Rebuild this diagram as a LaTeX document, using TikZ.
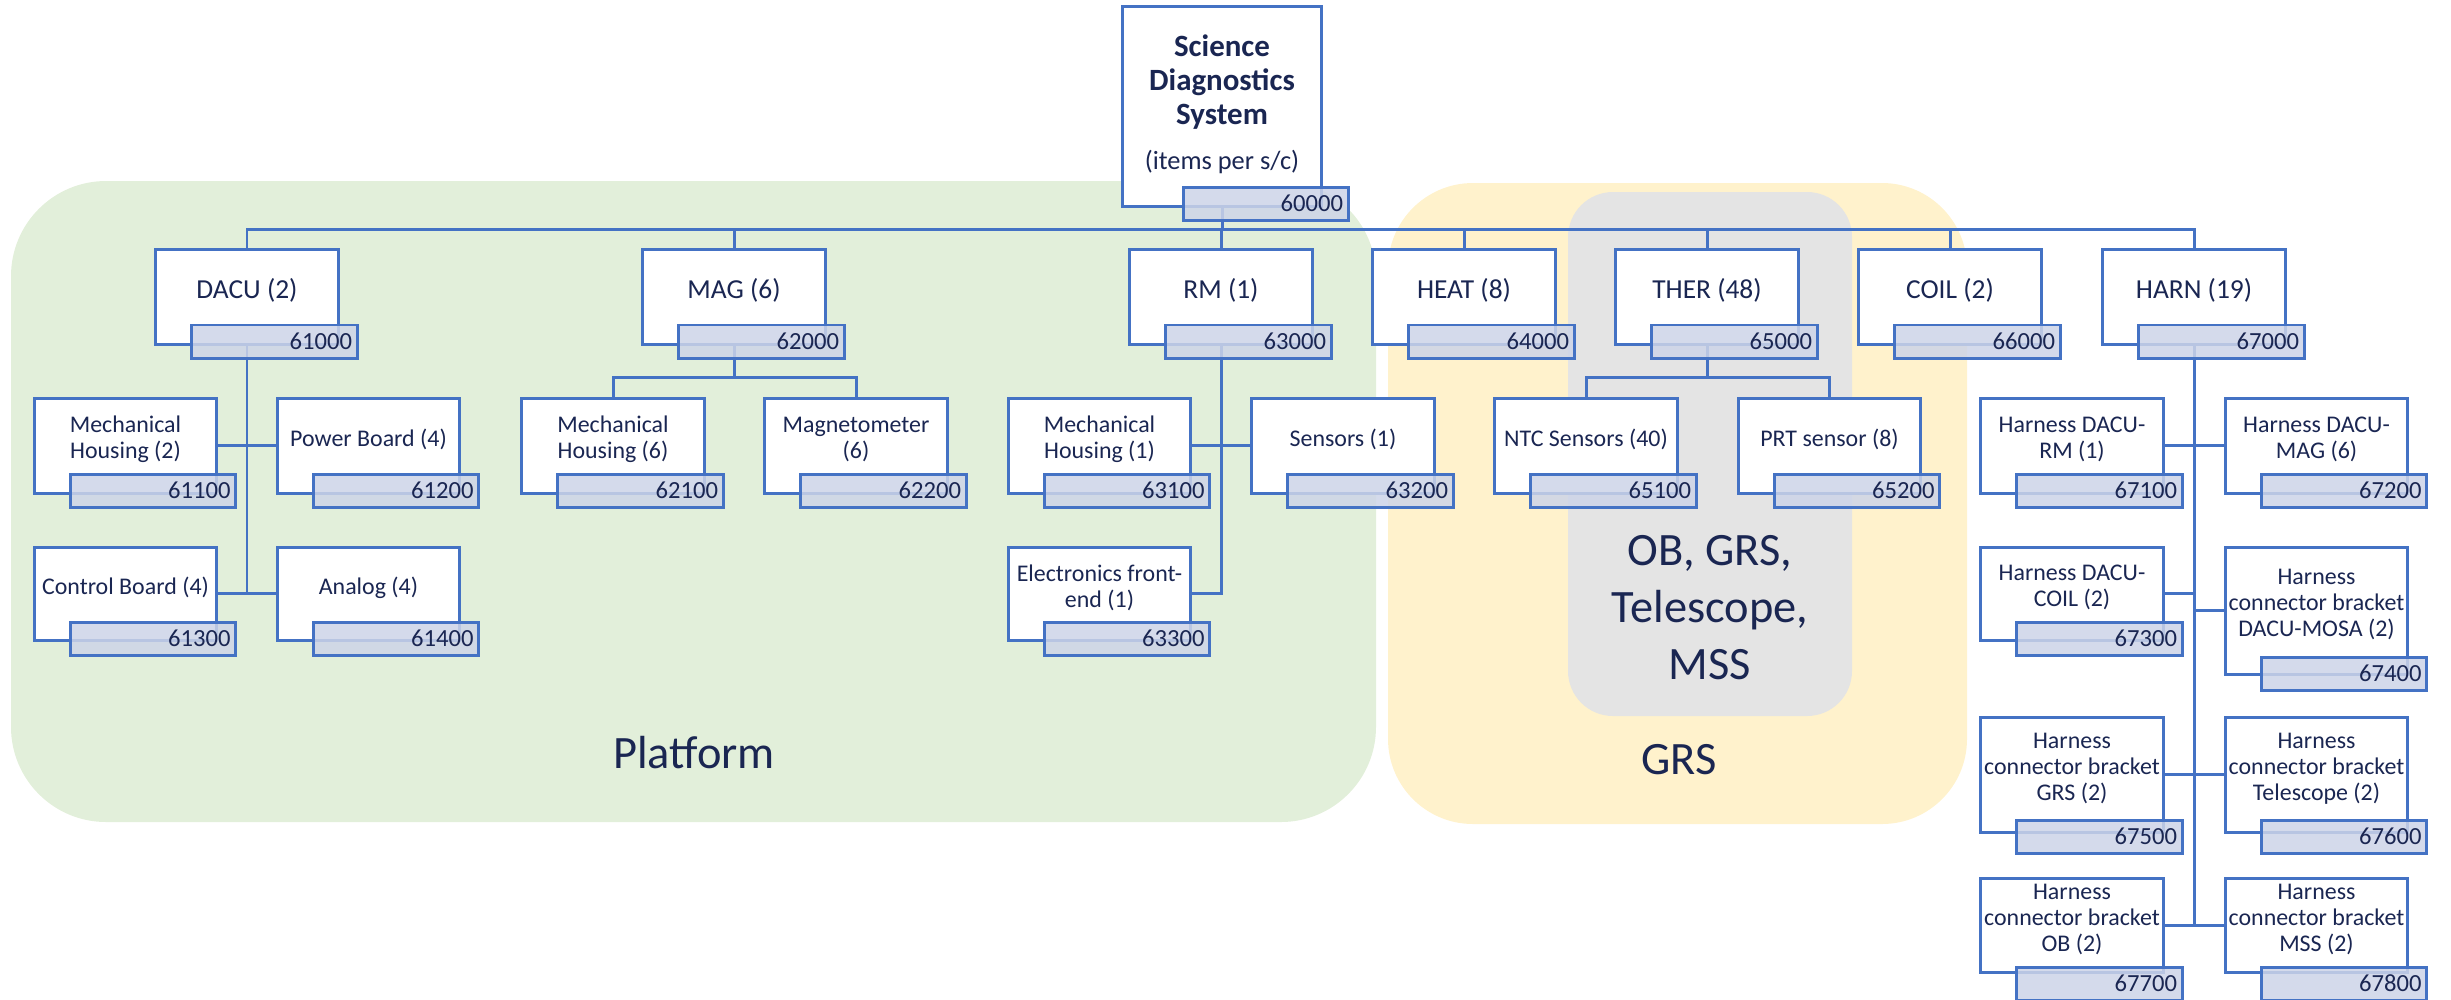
\documentclass[tikz,border=0pt]{standalone}
\usepackage{fontspec}
\setmainfont{Carlito}
\usetikzlibrary{calc}
\definecolor{bl}{HTML}{4472C4}
\definecolor{tx}{RGB}{26,38,82}
\definecolor{tagf}{RGB}{205,212,232}
\definecolor{grn}{RGB}{226,239,218}
\definecolor{yel}{RGB}{255,242,204}
\definecolor{gry}{RGB}{228,228,228}
\pgfdeclarelayer{bg}\pgfdeclarelayer{conn}\pgfsetlayers{bg,conn,main}
\tikzset{
 box/.style={draw=bl, line width=0.85pt, fill=white, inner sep=0pt},
 boxtxt/.style={text=tx, align=center, font=\fontsize{6.8}{7.4}\selectfont, inner sep=0pt},
 toptxt/.style={text=tx, align=center, font=\fontsize{7.8}{8.5}\selectfont, inner sep=0pt},
 tag/.style={draw=bl, line width=0.85pt, fill=tagf, fill opacity=0.85, text opacity=1, draw opacity=1,
   text=tx, font=\fontsize{7}{8}\selectfont, text width=1.55cm, align=right, minimum height=0.33cm,
   inner xsep=0.05cm, inner ysep=0pt, anchor=north west},
 conn/.style={draw=bl, line width=0.85pt},
 region/.style={font=\fontsize{13.2}{16.2}\selectfont, text=tx, align=center, inner sep=0pt}
}
% name, cx, cy, h, textstyle, text, number, overlap
\newcommand\itm[8]{%
 \node[box, minimum width=1.82cm, minimum height=#4*0.01cm, label={[#5,yshift=1.7pt]center:{#6}}] (#1) at (#2,#3) {};
 \node[tag] (#1-t) at ($(#1.south west)+(36,-#8)$) {#7};
}
\begin{document}
\begin{tikzpicture}[x=0.01cm,y=-0.01cm]
\useasboundingbox (0,0) rectangle (2451,999);
% backgrounds
\begin{pgfonlayer}{bg}
 \fill[grn, rounded corners=0.95cm] (11,181) rectangle (1376,822);
 \fill[yel, rounded corners=0.85cm] (1388,183) rectangle (1967,824);
 \fill[gry, rounded corners=0.45cm] (1568,192) rectangle (1852,716);
\end{pgfonlayer}
\node[region] (platform) at (694,753) {Platform};
\node[region] (grs) at (1679,760) {GRS};
\node[region] (obgrs) at (1710,608) {OB, GRS,\\Telescope,\\MSS};
% root
\node[box, minimum width=1.98cm, minimum height=1.99cm] (sds) at (1222,106.5) {};
\node[text=tx, align=center, inner sep=0pt, font=\bfseries\fontsize{8.8}{9.7}\selectfont] (sdstxt) at (1222,104)
 {Science\\Diagnostics\\System\\[3pt]\mdseries\fontsize{7.5}{9}\selectfont (items per s/c)};
\node[tag, text width=1.54cm] (sds-t) at ($(sds.south west)+(61,-22)$) {60000};
% level 1
\itm{dacu}{247}{296.5}{95}{toptxt}{DACU (2)}{61000}{22}
\itm{mag}{734}{296.5}{95}{toptxt}{MAG (6)}{62000}{22}
\itm{rm}{1221}{296.5}{95}{toptxt}{RM (1)}{63000}{22}
\itm{heat}{1464}{296.5}{95}{toptxt}{HEAT (8)}{64000}{22}
\itm{ther}{1707}{296.5}{95}{toptxt}{THER (48)}{65000}{22}
\itm{coil}{1950}{296.5}{95}{toptxt}{COIL (2)}{66000}{22}
\itm{harn}{2194}{296.5}{95}{toptxt}{HARN (19)}{67000}{22}
% DACU children
\itm{d1}{125.5}{445.5}{95}{boxtxt}{Mechanical\\Housing (2)}{61100}{22}
\itm{d2}{368.5}{445.5}{95}{boxtxt}{Power Board (4)}{61200}{22}
\itm{d3}{125.5}{593.5}{93}{boxtxt}{Control Board (4)}{61300}{21}
\itm{d4}{368.5}{593.5}{93}{boxtxt}{Analog (4)}{61400}{21}
% MAG children
\itm{m1}{613}{445.5}{95}{boxtxt}{Mechanical\\Housing (6)}{62100}{22}
\itm{m2}{856}{445.5}{95}{boxtxt}{Magnetometer\\(6)}{62200}{22}
% RM children
\itm{r1}{1099.5}{445.5}{95}{boxtxt}{Mechanical\\Housing (1)}{63100}{22}
\itm{r2}{1343}{445.5}{95}{boxtxt}{Sensors (1)}{63200}{22}
\itm{r3}{1099.5}{593.5}{93}{boxtxt}{Electronics front-\\end (1)}{63300}{21}
% THER children
\itm{t1}{1586}{445.5}{95}{boxtxt}{NTC Sensors (40)}{65100}{22}
\itm{t2}{1829.5}{445.5}{95}{boxtxt}{PRT sensor (8)}{65200}{22}
% HARN children
\itm{h1}{2072}{445.5}{95}{boxtxt}{Harness DACU-\\RM (1)}{67100}{22}
\itm{h2}{2316.5}{445.5}{95}{boxtxt}{Harness DACU-\\MAG (6)}{67200}{22}
\itm{h3}{2072}{593.5}{93}{boxtxt}{Harness DACU-\\COIL (2)}{67300}{21}
\itm{h4}{2316.5}{610.5}{127}{boxtxt}{Harness\\connector bracket\\DACU-MOSA (2)}{67400}{20}
\itm{h5}{2072}{774.5}{115}{boxtxt}{Harness\\connector bracket\\GRS (2)}{67500}{15}
\itm{h6}{2316.5}{774.5}{115}{boxtxt}{Harness\\connector bracket\\Telescope (2)}{67600}{15}
\itm{h7}{2072}{925}{94}{boxtxt}{Harness\\connector bracket\\OB (2)}{67700}{8}
\itm{h8}{2316.5}{925}{94}{boxtxt}{Harness\\connector bracket\\MSS (2)}{67800}{8}
% connectors
\begin{pgfonlayer}{conn}
 \foreach \c in {dacu,mag,rm,heat,ther,coil,harn}
   \draw[conn] (sds.south) -- ++(0,22) -| (\c.north);
 % DACU
 \draw[conn] (dacu.south) -- (dacu.south |- d3.east);
 \draw[conn] (d1.east) -- (d2.west);
 \draw[conn] (d3.east) -- (d4.west);
 % MAG
 \draw[conn] (mag.south) -- ++(0,32) -| (m1.north);
 \draw[conn] (mag.south) -- ++(0,32) -| (m2.north);
 % RM
 \draw[conn] (rm.south) -- (rm.south |- r3.east) -- (r3.east);
 \draw[conn] (r1.east) -- (r2.west);
 % THER
 \draw[conn] (ther.south) -- ++(0,32) -| (t1.north);
 \draw[conn] (ther.south) -- ++(0,32) -| (t2.north);
 % HARN
 \draw[conn] (harn.south) -- (harn.south |- h7.east);
 \draw[conn] (h1.east) -- (h2.west);
 \draw[conn] (h3.east) -- (harn.south |- h3.east);
 \draw[conn] (h4.west) -- (harn.south |- h4.west);
 \draw[conn] (h5.east) -- (h6.west);
 \draw[conn] (h7.east) -- (h8.west);
\end{pgfonlayer}
\end{tikzpicture}
\end{document}
